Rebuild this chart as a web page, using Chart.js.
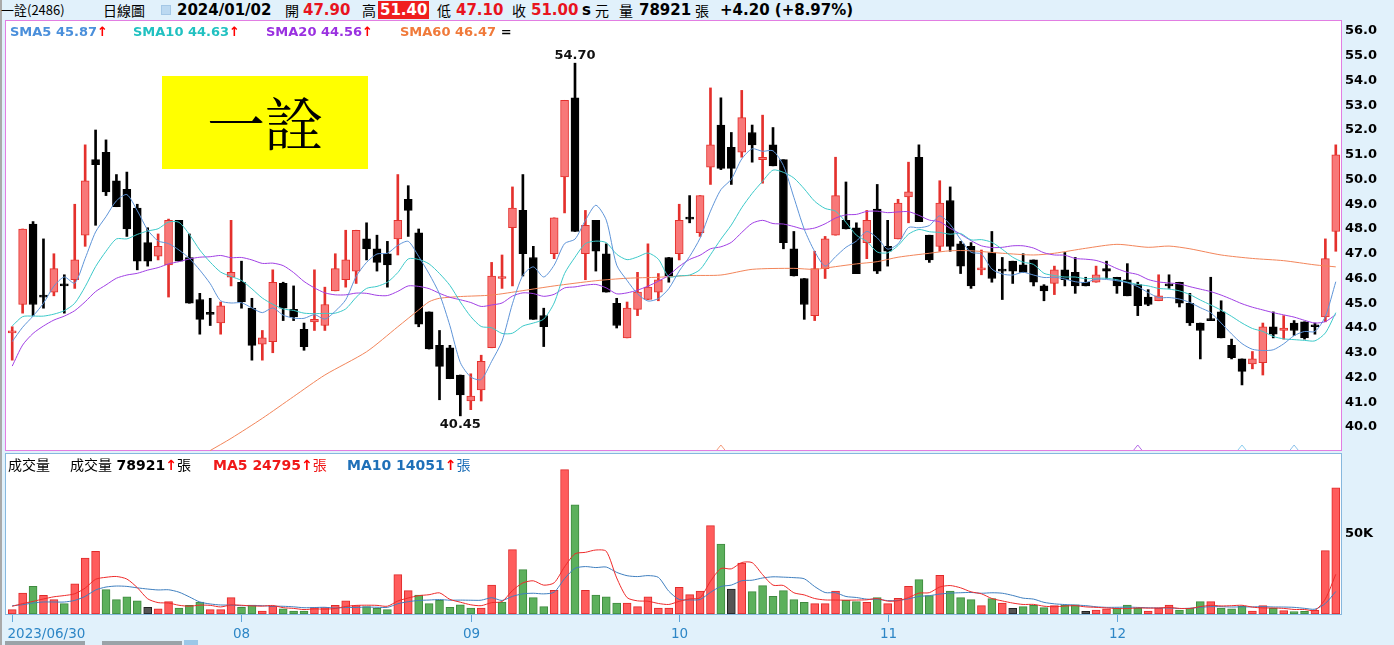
<!DOCTYPE html>
<html>
<head>
<meta charset="utf-8">
<title>一詮(2486) 日線圖</title>
<script src="https://cdn.jsdelivr.net/npm/chart.js@4.4.1/dist/chart.umd.min.js"></script>
<style>
  body { margin: 0; width: 1394px; height: 645px; background: #e1f1fb; position: relative; overflow: hidden;
         font-family: "DejaVu Sans", Verdana, sans-serif; }
  .abs { position: absolute; white-space: nowrap; }
  .cjk { font-family: "Noto Sans CJK TC", "Noto Sans CJK SC", sans-serif; }
  .hd { top: 0; height: 20px; line-height: 20px; font-size: 14px; color: #000; }
  .hb { font-weight: bold; font-size: 15px; }
  .red { color: #e8141e; }
  .up { color: #ff0000; font-weight: bold; }
  #pricePanel { left: 5px; top: 20px; width: 1335px; height: 429px; background: #fff; border: 1px solid #e27ee2; }
  #volPanel { left: 5px; top: 453px; width: 1335px; height: 160px; background: #fff; border: 1px solid #86b8de; }
  #leftLine { left: 0; top: 0; width: 2px; height: 645px; background: #a9a9a9; }
  .lg { top: 24px; height: 15px; line-height: 15px; font-size: 13px; font-weight: bold; }
  .vl { top: 455px; height: 18px; line-height: 18px; font-size: 14px; }
  #nameBox { left: 162px; top: 76px; width: 206px; height: 93px; background: #ffff00; text-align: center;
             line-height: 90px; font-size: 58px; font-weight: 400; color: #000;
             font-family: "Noto Serif CJK TC", "Noto Sans CJK TC", serif; }
  canvas { position: absolute; left: 0; }
  #scroll1 { left: 5px; top: 641px; width: 80px; height: 4px; background: #9aa3a8; }
  #scroll2 { left: 102px; top: 641px; width: 80px; height: 4px; background: #9aa3a8; }
  #scroll3 { left: 184px; top: 640px; width: 14px; height: 5px; background: #9cc8e8; }
</style>
</head>
<body>
<div id="leftLine" class="abs"></div>

<!-- header line -->
<span class="abs hd cjk" style="left:1px;font-size:13px">一詮(2486)</span>
<span class="abs hd cjk" style="left:103px">日線圖</span>
<span class="abs" style="left:161px;top:5px;width:10px;height:10px;background:#bcd9f1;border:1px solid #a5c8e6;box-sizing:border-box"></span>
<span class="abs hd hb" style="left:177px">2024/01/02</span>
<span class="abs hd cjk" style="left:285px">開</span>
<span class="abs hd hb red" style="left:303px">47.90</span>
<span class="abs hd cjk" style="left:362px">高</span>
<span class="abs hd hb" style="left:378px;top:1px;height:18px;line-height:18px;padding:0 2px;background:#f01e1e;color:#fff">51.40</span>
<span class="abs hd cjk" style="left:437px">低</span>
<span class="abs hd hb red" style="left:456px">47.10</span>
<span class="abs hd cjk" style="left:512px">收</span>
<span class="abs hd hb red" style="left:531px">51.00</span>
<span class="abs hd hb" style="left:582px">s</span>
<span class="abs hd cjk" style="left:595px">元</span>
<span class="abs hd cjk" style="left:619px">量</span>
<span class="abs hd hb" style="left:639px">78921</span>
<span class="abs hd cjk" style="left:695px">張</span>
<span class="abs hd hb" style="left:720px">+4.20 (+8.97%)</span>

<div id="pricePanel" class="abs"></div>
<div id="volPanel" class="abs"></div>

<canvas id="priceChart" width="1394" height="431" style="top:20px;width:1394px;height:431px"></canvas>
<canvas id="volChart" width="1394" height="192" style="top:453px;width:1394px;height:192px"></canvas>

<!-- price legend -->
<span class="abs lg" style="left:10px;color:#4a8fdb">SMA5 45.87<span class="up">↑</span></span>
<span class="abs lg" style="left:133px;color:#21c1c1">SMA10 44.63<span class="up">↑</span></span>
<span class="abs lg" style="left:266px;color:#9a30e0">SMA20 44.56<span class="up">↑</span></span>
<span class="abs lg" style="left:400px;color:#f07a3a">SMA60 46.47 <span style="color:#000">=</span></span>

<div id="nameBox" class="abs">一詮</div>

<!-- volume legend -->
<span class="abs vl cjk" style="left:8px">成交量</span>
<span class="abs vl" style="left:70px"><span class="cjk">成交量</span> <b>78921</b><span class="up">↑</span><span class="cjk">張</span></span>
<span class="abs vl" style="left:213px;color:#f01818"><b>MA5 24795</b><span class="up">↑</span><span class="cjk">張</span></span>
<span class="abs vl" style="left:347px;color:#1f70b8"><b>MA10 14051</b><span class="up">↑</span><span class="cjk">張</span></span>

<div id="scroll1" class="abs"></div>
<div id="scroll2" class="abs"></div>
<div id="scroll3" class="abs"></div>

<script>
// 一詮(2486) daily candles, 2023/06/30 .. 2024/01/02 (128 sessions)

const opens = [
  43.80, 44.95, 48.20, 45.30, 45.45, 45.75, 45.95, 47.75, 50.80, 51.10,
  49.95, 49.60, 48.85, 47.45, 46.90, 46.55, 48.35, 46.85, 45.15, 44.60,
  44.20, 46.05, 45.85, 44.80, 43.35, 43.45, 45.80, 44.75, 43.95, 44.25,
  44.10, 45.50, 45.95, 46.30, 47.60, 47.20, 47.00, 47.60, 49.20, 47.85,
  44.65, 43.30, 43.20, 42.10, 41.05, 41.50, 43.20, 46.00, 48.05, 48.75,
  46.85, 44.50, 47.00, 50.10, 53.30, 47.00, 48.35, 47.00, 45.00, 43.60,
  44.75, 45.15, 45.45, 46.85, 47.00, 48.45, 47.85, 50.50, 52.20, 51.30,
  51.10, 51.90, 50.80, 51.40, 50.80, 47.20, 46.00, 44.50, 46.40, 47.75,
  48.35, 48.05, 47.45, 48.80, 47.30, 47.60, 49.30, 50.90, 47.75, 47.30,
  49.15, 47.40, 47.30, 46.35, 47.05, 46.35, 46.70, 46.55, 46.75, 45.70,
  45.80, 46.35, 46.25, 45.85, 45.85, 46.40, 46.05, 45.95, 45.75, 45.25,
  45.10, 45.75, 45.85, 45.00, 44.20, 44.35, 44.65, 43.30, 42.75, 42.55,
  42.60, 44.05, 43.90, 44.20, 44.25, 44.10, 44.45, 47.90
];
const highs = [
  44.05, 48.00, 48.30, 47.60, 47.00, 46.15, 49.00, 51.40, 52.00, 51.60,
  50.20, 50.30, 49.00, 48.05, 47.80, 48.40, 48.35, 47.80, 45.40, 45.20,
  45.05, 48.35, 46.70, 45.20, 43.90, 46.35, 45.85, 45.70, 44.20, 46.35,
  45.65, 47.00, 47.95, 47.95, 48.25, 47.75, 47.50, 50.20, 49.75, 48.00,
  44.65, 43.90, 43.30, 42.10, 42.15, 42.90, 46.65, 46.95, 49.70, 50.20,
  47.30, 44.80, 48.45, 53.20, 54.70, 48.75, 48.35, 47.40, 45.20, 45.05,
  46.25, 47.40, 46.20, 46.85, 49.00, 49.35, 49.35, 53.70, 53.30, 51.90,
  53.60, 52.20, 52.60, 52.10, 50.80, 47.90, 46.00, 47.10, 47.70, 50.90,
  49.90, 48.25, 48.75, 49.80, 48.35, 49.20, 50.70, 51.40, 47.75, 49.95,
  49.70, 47.50, 47.45, 47.15, 47.90, 46.85, 46.70, 47.00, 46.75, 45.75,
  46.50, 47.05, 46.85, 46.05, 46.50, 46.70, 46.05, 46.60, 45.85, 45.55,
  46.15, 46.15, 45.85, 45.40, 44.20, 46.05, 45.10, 43.55, 42.75, 43.05,
  44.20, 44.65, 44.50, 44.30, 44.25, 44.20, 47.60, 51.40
];
const lows = [
  42.70, 44.60, 44.50, 44.80, 45.30, 44.60, 45.60, 47.30, 48.15, 49.35,
  48.90, 47.70, 46.35, 46.50, 46.75, 45.25, 46.70, 45.00, 43.75, 44.10,
  43.75, 45.70, 44.80, 42.70, 42.70, 43.00, 44.30, 44.30, 43.10, 43.90,
  43.90, 45.50, 45.65, 45.80, 46.75, 46.30, 45.65, 46.95, 47.70, 44.05,
  43.15, 41.10, 41.95, 40.45, 40.70, 41.05, 43.20, 45.60, 45.70, 46.10,
  44.35, 43.25, 46.80, 48.65, 47.90, 45.95, 46.30, 45.45, 44.00, 43.60,
  44.50, 45.15, 45.10, 45.85, 46.75, 48.25, 47.70, 49.80, 50.40, 49.80,
  50.90, 50.70, 49.85, 50.55, 47.20, 46.10, 44.35, 44.30, 46.00, 47.75,
  48.00, 46.20, 46.80, 46.20, 46.50, 47.60, 48.25, 48.30, 46.65, 47.10,
  47.10, 46.20, 45.60, 46.15, 45.85, 45.15, 45.80, 46.25, 45.70, 45.10,
  45.35, 45.70, 45.40, 45.70, 45.85, 46.00, 45.40, 45.30, 44.50, 44.90,
  45.10, 45.60, 44.85, 44.10, 42.75, 44.30, 43.60, 42.75, 41.70, 42.35,
  42.10, 43.60, 43.55, 43.70, 43.55, 43.75, 44.25, 47.10
];
const closes = [
  43.85, 48.00, 44.95, 45.25, 46.40, 45.70, 46.75, 49.95, 50.60, 49.50,
  48.90, 48.00, 46.70, 46.70, 47.30, 48.35, 46.70, 45.00, 44.35, 44.55,
  44.90, 46.25, 45.05, 43.30, 43.60, 45.85, 44.80, 44.45, 43.25, 44.35,
  44.95, 46.40, 46.75, 47.95, 47.20, 46.65, 46.55, 48.35, 48.75, 44.15,
  43.15, 42.45, 41.95, 41.30, 41.25, 42.65, 46.10, 46.05, 48.85, 47.00,
  44.35, 44.05, 48.45, 53.20, 47.90, 48.15, 47.10, 45.45, 44.10, 44.80,
  45.45, 45.65, 45.95, 46.10, 48.35, 48.40, 49.35, 51.40, 50.45, 50.45,
  52.50, 51.40, 50.90, 50.55, 47.45, 46.10, 44.95, 46.40, 47.60, 49.35,
  48.00, 46.20, 48.35, 46.30, 47.10, 49.05, 49.50, 48.30, 46.75, 49.05,
  47.30, 46.50, 45.70, 46.40, 46.00, 46.30, 46.30, 46.25, 45.85, 45.50,
  46.35, 45.95, 45.70, 45.70, 46.15, 46.30, 45.70, 45.30, 44.90, 44.95,
  45.30, 45.70, 45.00, 44.20, 43.90, 44.30, 43.60, 42.80, 42.25, 42.75,
  44.05, 43.75, 44.00, 43.90, 43.60, 44.05, 46.80, 51.00
];

// moving averages as drawn on the chart
const sma5 = [
  43.45, 44.03, 44.48, 45.00, 45.69, 46.06, 45.81, 46.81, 47.88, 48.50,
  49.14, 49.39, 48.74, 47.96, 47.52, 47.41, 47.15, 46.81, 46.34, 45.79,
  45.10, 45.01, 45.02, 44.81, 44.62, 44.81, 44.52, 44.40, 44.39, 44.54,
  44.36, 44.68, 45.14, 46.08, 46.65, 46.99, 47.02, 47.34, 47.50, 46.89,
  46.19, 45.37, 44.09, 42.60, 42.02, 41.92, 42.65, 43.47, 44.98, 46.13,
  46.47, 46.06, 46.54, 47.41, 47.59, 48.35, 48.96, 48.36, 46.54, 45.92,
  45.38, 45.09, 45.19, 45.59, 46.30, 46.89, 47.63, 48.72, 49.59, 50.01,
  50.83, 51.24, 51.14, 51.16, 50.56, 49.28, 47.99, 47.09, 46.50, 46.88,
  47.26, 47.51, 47.90, 47.64, 47.19, 47.40, 48.06, 48.05, 48.14, 48.53,
  48.18, 47.58, 47.06, 46.99, 46.38, 46.18, 46.14, 46.25, 46.14, 46.04,
  46.05, 45.98, 45.87, 45.84, 45.97, 45.96, 45.91, 45.83, 45.67, 45.43,
  45.23, 45.23, 45.17, 45.03, 44.82, 44.62, 44.20, 43.76, 43.37, 43.14,
  43.09, 43.12, 43.36, 43.69, 43.86, 43.86, 44.47, 45.87
];
const sma10 = [
  44.08, 44.46, 44.48, 44.48, 44.56, 44.70, 45.00, 45.67, 46.48, 47.10,
  47.60, 47.60, 47.78, 47.92, 48.01, 48.28, 48.27, 47.78, 47.15, 46.66,
  46.26, 46.08, 45.92, 45.58, 45.21, 44.96, 44.77, 44.71, 44.60, 44.58,
  44.59, 44.60, 44.77, 45.24, 45.60, 45.68, 45.85, 46.24, 46.79, 46.77,
  46.59, 46.20, 45.72, 45.05, 44.46, 44.06, 44.01, 43.78, 43.79, 44.08,
  44.20, 44.36, 45.01, 46.20, 46.86, 47.41, 47.51, 47.45, 46.98, 46.76,
  46.87, 47.03, 46.78, 46.07, 46.11, 46.14, 46.36, 46.96, 47.59, 48.16,
  48.86, 49.44, 49.93, 50.38, 50.29, 50.06, 49.62, 49.12, 48.83, 48.72,
  48.27, 47.75, 47.50, 47.07, 47.04, 47.33, 47.79, 47.98, 47.89, 47.86,
  47.79, 47.82, 47.56, 47.57, 47.46, 47.18, 46.86, 46.66, 46.57, 46.21,
  46.12, 46.06, 46.06, 45.99, 46.01, 46.01, 45.95, 45.85, 45.76, 45.70,
  45.60, 45.57, 45.50, 45.35, 45.13, 44.93, 44.72, 44.47, 44.20, 43.98,
  43.86, 43.66, 43.56, 43.53, 43.50, 43.48, 43.80, 44.62
];
const sma20 = [
  42.46, 43.31, 43.78, 44.08, 44.32, 44.48, 44.70, 45.06, 45.47, 45.74,
  46.01, 46.14, 46.21, 46.34, 46.44, 46.59, 46.68, 46.79, 46.86, 46.88,
  46.93, 46.84, 46.85, 46.75, 46.61, 46.62, 46.52, 46.24, 45.88, 45.62,
  45.42, 45.34, 45.34, 45.41, 45.40, 45.32, 45.31, 45.48, 45.70, 45.68,
  45.59, 45.40, 45.24, 45.14, 45.03, 44.87, 44.93, 45.01, 45.29, 45.42,
  45.39, 45.28, 45.36, 45.62, 45.66, 45.73, 45.76, 45.62, 45.38, 45.42,
  45.53, 45.69, 45.89, 46.13, 46.49, 46.77, 46.94, 47.20, 47.28, 47.46,
  47.86, 48.23, 48.35, 48.22, 48.20, 48.10, 47.99, 48.04, 48.21, 48.44,
  48.57, 48.59, 48.71, 48.72, 48.66, 48.69, 48.70, 48.55, 48.36, 48.29,
  48.03, 47.79, 47.53, 47.32, 47.25, 47.26, 47.32, 47.32, 47.23, 47.04,
  46.95, 46.94, 46.81, 46.78, 46.73, 46.59, 46.40, 46.25, 46.16, 45.96,
  45.86, 45.82, 45.78, 45.67, 45.57, 45.47, 45.33, 45.16, 44.98, 44.84,
  44.73, 44.62, 44.53, 44.44, 44.31, 44.20, 44.26, 44.54
];
// SMA60 only enters the visible range from the 20th session; read at these sessions
const sma60Idx = [19, 21, 24, 27, 30, 34, 37, 39, 40, 41, 43, 46, 49, 52, 56, 59, 62, 65, 68, 71,
                  75, 77, 79, 81, 83, 85, 88, 90, 92, 95, 98, 100, 103, 106, 109, 111, 113, 116, 119, 122, 125, 127];
const sma60Val = [39.05, 39.54, 40.35, 41.23, 42.10, 43.04, 44.05, 44.73, 45.06, 45.20, 45.27, 45.33, 45.51, 45.70,
                  45.91, 46.01, 46.05, 46.12, 46.14, 46.37, 46.41, 46.37, 46.48, 46.59, 46.68, 46.86, 47.02, 47.12,
                  47.12, 47.02, 46.95, 47.02, 47.22, 47.38, 47.26, 47.31, 47.20, 46.95, 46.81, 46.72, 46.55, 46.47];

// volume in 張
const volumes = [
  2700, 13100, 17300, 11700, 9000, 6500, 18800, 35000, 39200, 15200,
  9000, 10800, 8300, 4200, 3300, 7700, 3750, 5400, 7500, 2700,
  2700, 10200, 4200, 5600, 1900, 4800, 3300, 1900, 1900, 4000,
  4000, 5400, 8300, 5200, 4600, 3500, 2700, 24600, 14600, 11900,
  6500, 8500, 4200, 5800, 3750, 3750, 18100, 7500, 40200, 27700,
  10200, 4600, 14800, 90200, 68300, 14800, 11900, 10800, 6900, 6900,
  4600, 10800, 3750, 3750, 16700, 12100, 14400, 55200, 43750, 15600,
  31900, 14000, 17700, 11000, 14600, 9000, 7300, 6500, 6500, 14400,
  8500, 7700, 7300, 10200, 6500, 9800, 17300, 21500, 11500, 24200,
  14400, 10200, 9000, 5200, 9600, 6900, 3500, 4600, 5400, 4000,
  5200, 5600, 5800, 1700, 2500, 3300, 3750, 5600, 3750, 1900,
  3750, 5600, 2500, 3500, 7700, 7700, 3750, 3300, 4800, 1900,
  5200, 3500, 2100, 1500, 1700, 2300, 39600, 78921
];
const volMa5 = [
  4800, 6500, 7900, 9400, 10760, 11520, 12660, 16200, 21700, 22940,
  23440, 21840, 16500, 9500, 7120, 6860, 5450, 4870, 5530, 5410,
  4410, 5700, 5460, 5080, 4920, 5340, 3960, 3500, 2760, 3180,
  3020, 3440, 4720, 5380, 5500, 5400, 4860, 8120, 10000, 11460,
  12060, 13220, 9140, 7380, 5750, 5200, 7120, 7780, 14660, 19450,
  20740, 18040, 19500, 29500, 37620, 38540, 40000, 39200, 22540, 10260,
  8220, 8000, 6590, 5960, 7920, 9420, 10140, 20430, 28430, 28210,
  32170, 32090, 24590, 18040, 17840, 13260, 11920, 9680, 8780, 8740,
  8640, 8720, 8880, 9620, 8040, 8300, 10220, 13060, 13320, 16860,
  17780, 16360, 13860, 12600, 9680, 8180, 6840, 5960, 6000, 4880,
  4540, 4960, 5200, 4460, 4160, 3780, 3410, 3370, 3780, 3660,
  3750, 4120, 3500, 3450, 4610, 5400, 5030, 5190, 5450, 4290,
  3790, 3740, 3500, 2840, 2800, 2220, 9440, 24795
];
const volMa10 = [
  5200, 5800, 6900, 7500, 7500, 7500, 8500, 11000, 15000, 16850,
  17480, 17250, 16350, 15600, 15030, 15150, 13650, 10690, 7520, 6270,
  5640, 5580, 5170, 5310, 5170, 4880, 4830, 4480, 3920, 4050,
  4180, 3700, 4110, 4070, 4340, 4210, 4150, 6420, 7690, 8480,
  8730, 9040, 8630, 8690, 8610, 8630, 10170, 8460, 11020, 12600,
  12970, 12580, 13640, 22080, 28540, 29640, 29020, 29350, 26020, 23940,
  23380, 24000, 22900, 14250, 9090, 8820, 9070, 13510, 17200, 18070,
  20800, 21120, 22510, 23240, 23030, 22720, 22010, 17140, 13410, 13290,
  10950, 10320, 9280, 9200, 8390, 8470, 9470, 10970, 11470, 12450,
  13040, 13290, 13460, 12960, 13270, 12980, 11600, 9910, 9300, 7280,
  6360, 5900, 5580, 5230, 4520, 4160, 4190, 4290, 4120, 3910,
  3770, 3770, 3440, 3620, 4140, 4580, 4580, 4350, 4450, 4450,
  4600, 4390, 4350, 4150, 3550, 3010, 6590, 14051
];

// axis labels
const priceTicks = [40, 41, 42, 43, 44, 45, 46, 47, 48, 49, 50, 51, 52, 53, 54, 55, 56];
const volTicks = [50000];
const monthIdx = [0, 22, 44, 64, 84, 106];
const monthText = ['2023/06/30', '08', '09', '10', '11', '12'];

// annotated extremes and the small cross markers under the price panel
const noteHighIdx = 54;
const noteLowIdx = 43;
const crossIdx = [68, 108, 118, 123];
const crossColor = ['#f49a7a', '#b46ae6', '#8ccdee', '#8cc0ea'];

const sessions = closes.map((c, i) => i);

// colours
const UP_FILL = '#f87878', UP_EDGE = '#e4302c';
const DOWN_FILL = '#000000';
const VOL_UP = '#ff5c5c', VOL_UP_EDGE = '#e02a2a';
const VOL_DN = '#5cb05c', VOL_DN_EDGE = '#3f8a3f';
const VOL_FLAT = '#555555', VOL_FLAT_EDGE = '#222222';

const isUp = closes.map((c, i) => c >= opens[i]);
const volDir = closes.map((c, i) => i === 0 ? 1 : Math.sign(Math.round((c - closes[i - 1]) * 100)));

const noRatio = { devicePixelRatio: 1 };

// Draw the high / low notes
const extremesPlugin = {
    id: 'extremes',
    afterDatasetsDraw(chart) {
        const { ctx, scales: { x, y } } = chart;
        ctx.save();
        ctx.font = 'bold 13px "DejaVu Sans"';
        ctx.fillStyle = '#111';
        ctx.textAlign = 'center';
        ctx.textBaseline = 'middle';
        ctx.fillText(highs[noteHighIdx].toFixed(2), x.getPixelForValue(noteHighIdx), y.getPixelForValue(highs[noteHighIdx]) - 8);
        ctx.fillText(lows[noteLowIdx].toFixed(2), x.getPixelForValue(noteLowIdx), y.getPixelForValue(lows[noteLowIdx]) + 9);

        // small outline triangles sitting on the panel bottom
        const base = chart.chartArea.bottom - 1;
        crossIdx.forEach((idx, k) => {
            const px = x.getPixelForValue(idx);
            ctx.strokeStyle = crossColor[k];
            ctx.lineWidth = 1;
            ctx.beginPath();
            ctx.moveTo(px - 4, base);
            ctx.lineTo(px, base - 5);
            ctx.lineTo(px + 4, base);
            ctx.stroke();
        });
        ctx.restore();
    }
};

// Month ticks and labels under the volume panel
const monthPlugin = {
    id: 'months',
    afterDraw(chart) {
        const { ctx, chartArea, scales: { x } } = chart;
        ctx.save();
        ctx.strokeStyle = '#5ea6da';
        ctx.lineWidth = 1;
        ctx.fillStyle = '#2d86c6';
        ctx.font = '13.5px "DejaVu Sans"';
        ctx.textBaseline = 'middle';
        monthIdx.forEach((idx, k) => {
            const px = Math.round(x.getPixelForValue(idx)) + 0.5;
            ctx.beginPath();
            ctx.moveTo(px, chartArea.bottom + 1);
            ctx.lineTo(px, chartArea.bottom + 8);
            ctx.stroke();
            ctx.textAlign = k === 0 ? 'left' : 'center';
            ctx.fillText(monthText[k], k === 0 ? px - 5 : px, chartArea.bottom + 20);
        });
        ctx.restore();
    }
};

function rightAxis(min, max, ticks, label) {
    return {
        position: 'right',
        min: min,
        max: max,
        grid: { display: false, drawTicks: false },
        border: { display: false },
        ticks: {
            color: '#000',
            padding: 4,
            font: { family: 'DejaVu Sans', size: 13, weight: 'bold' },
            callback: label
        },
        afterBuildTicks: (scale) => { scale.ticks = ticks.map(v => ({ value: v })); },
        afterFit: (scale) => { scale.width = 53; scale.paddingTop = 0; scale.paddingBottom = 0; }
    };
}

const lineDefaults = { type: 'line', pointRadius: 0, borderWidth: 1, tension: 0.25, fill: false };

new Chart(document.getElementById('priceChart'), {
    data: {
        labels: sessions,
        datasets: [
            { ...lineDefaults, label: 'SMA5', data: sma5, borderColor: '#5e94d8', order: 0 },
            { ...lineDefaults, label: 'SMA10', data: sma10, borderColor: '#3cc9c9', order: 0 },
            { ...lineDefaults, label: 'SMA20', data: sma20, borderColor: '#a03fe4', order: 0 },
            { ...lineDefaults, label: 'SMA60', data: sma60Idx.map((idx, k) => ({ x: idx, y: sma60Val[k] })),
              borderColor: '#f2855a', order: 0 },
            {
                type: 'bar', label: 'body',
                data: opens.map((o, i) => [o, closes[i]]),
                backgroundColor: isUp.map(u => u ? UP_FILL : DOWN_FILL),
                borderColor: isUp.map(u => u ? UP_EDGE : DOWN_FILL),
                borderWidth: 1, borderSkipped: false,
                barThickness: 8, minBarLength: 2, grouped: false, order: 5
            },
            {
                type: 'bar', label: 'wick',
                data: lows.map((l, i) => [l, highs[i]]),
                backgroundColor: isUp.map(u => u ? UP_EDGE : DOWN_FILL),
                borderWidth: 0, barThickness: 2, grouped: false, order: 6
            }
        ]
    },
    options: {
        ...noRatio,
        responsive: false,
        animation: false,
        events: [],
        layout: { padding: { left: 7, right: 0, top: 1, bottom: 0 } },
        plugins: { legend: { display: false }, tooltip: { enabled: false } },
        scales: {
            x: { type: 'category', display: false, offset: true },
            y: rightAxis(39.03, 56.404, priceTicks, v => v.toFixed(1))
        }
    },
    plugins: [extremesPlugin]
});

new Chart(document.getElementById('volChart'), {
    data: {
        labels: sessions,
        datasets: [
            { ...lineDefaults, label: 'MA5', data: volMa5, borderColor: '#ee2a2a', order: 0 },
            { ...lineDefaults, label: 'MA10', data: volMa10, borderColor: '#3f7fbf', order: 0 },
            {
                type: 'bar', label: '成交量', data: volumes,
                backgroundColor: volDir.map(d => d > 0 ? VOL_UP : d < 0 ? VOL_DN : VOL_FLAT),
                borderColor: volDir.map(d => d > 0 ? VOL_UP_EDGE : d < 0 ? VOL_DN_EDGE : VOL_FLAT_EDGE),
                borderWidth: 1, borderSkipped: false, barThickness: 8, order: 5
            }
        ]
    },
    options: {
        ...noRatio,
        responsive: false,
        animation: false,
        events: [],
        layout: { padding: { left: 7, right: 0, top: 1, bottom: 31 } },
        plugins: { legend: { display: false }, tooltip: { enabled: false } },
        scales: {
            x: { type: 'category', display: false, offset: true },
            y: rightAxis(0, 100000, volTicks, v => (v / 1000) + 'K')
        }
    },
    plugins: [monthPlugin]
});
</script>
</body>
</html>
